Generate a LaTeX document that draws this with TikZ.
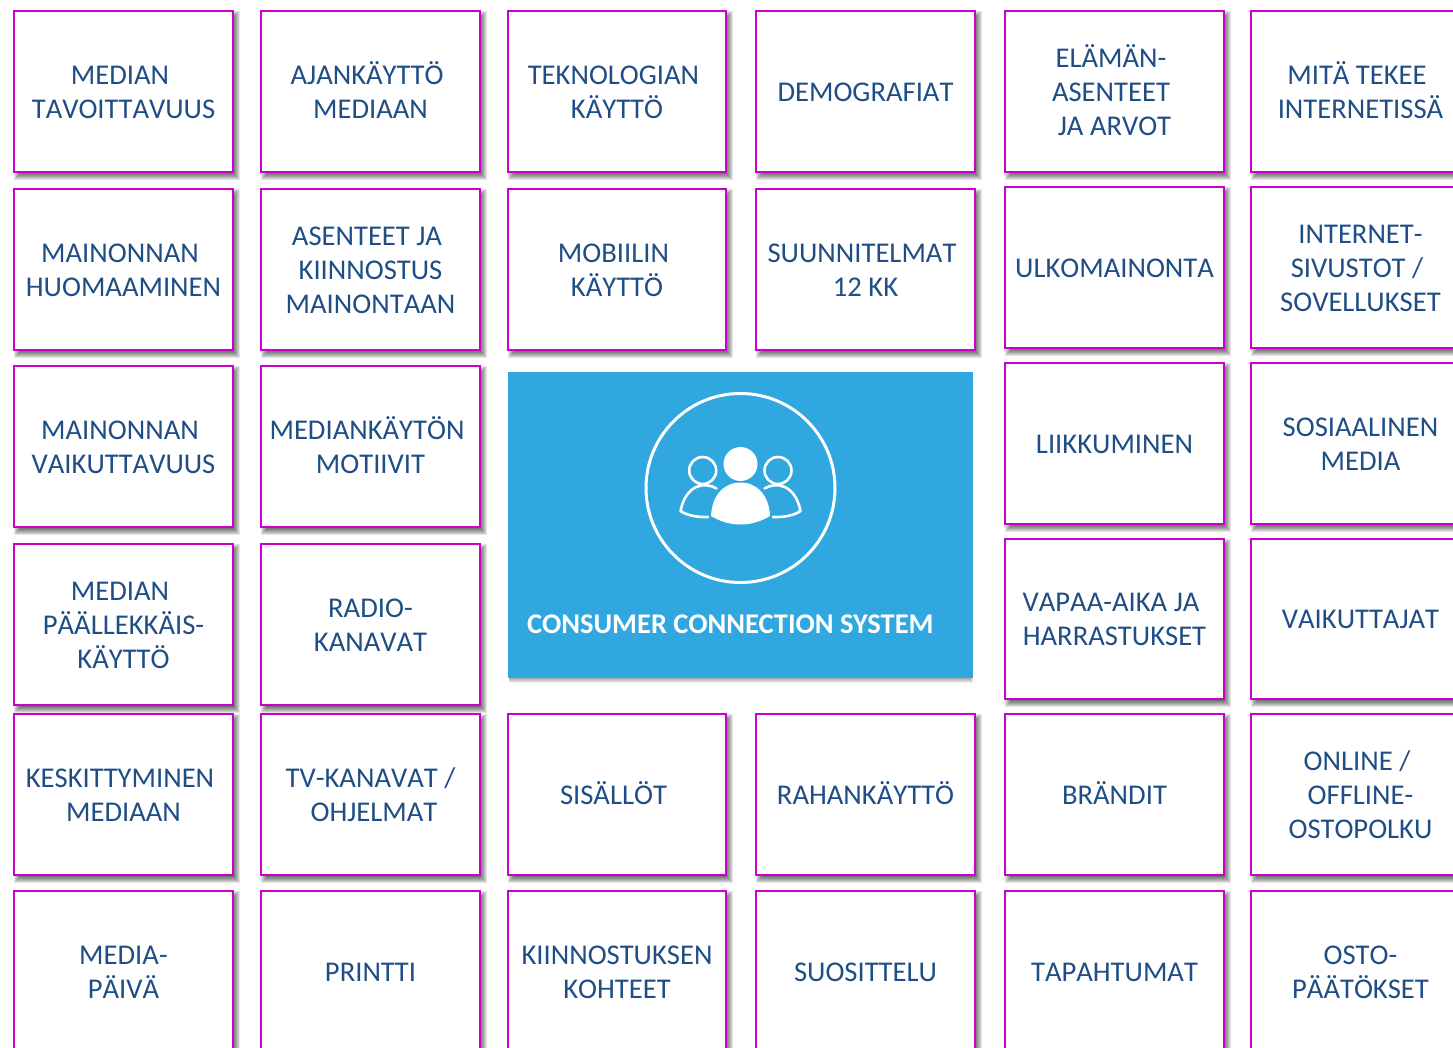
\documentclass[tikz,border=0pt]{standalone}
\usepackage{fontspec}
\setmainfont{Carlito}[Kerning=Off]
\newfontfamily\titlefont{Carlito}
\definecolor{cardline}{HTML}{CC00CC}
\definecolor{cardtext}{HTML}{1F4E86}
\definecolor{panelblue}{HTML}{31A7E0}
\newcommand{\tsp}{\kern7pt}
\newcommand{\cardfont}{\fontsize{28.6}{34}\selectfont}
\tikzset{
  cardbox/.style={draw=cardline,line width=2pt,fill=white,inner sep=0pt,text=cardtext,align=center,
    font=\cardfont},
  shadowlayer/.style={fill=black,draw=none,opacity=0.10},
  panelshadow/.style={fill=black,draw=none,opacity=0.07},
  personline/.style={draw=white,line width=2.6pt,line cap=round,line join=round},
}
% name, x1, y1, x2, y2, text
\newcommand{\card}[6]{%
  \foreach \e in {-3,-2,-1,0,1,2,3,4}{
    \fill[shadowlayer] ({#2+4-\e},{#3+4-\e}) rectangle ({#4+3+\e},{#5+4+\e});
  }
  \node[cardbox,minimum width={(#4-#2)*1pt},minimum height={(#5-#3)*1pt}] (#1) at ({(#2+#4)/2},{(#3+#5)/2}) {\rule{0pt}{26pt}#6\rule[-6.6pt]{0pt}{6.6pt}};
}
\begin{document}
\begin{tikzpicture}[x=1pt,y=-1pt]
\useasboundingbox (0,0) rectangle (1453,1047);
\clip (0,0) rectangle (1453,1047);
\fill[white] (0,0) rectangle (1453,1047);
% column 1
\card{a1}{14}{11}{233}{172}{MEDIAN\tsp\\TAVOITTAVUUS}
\card{a2}{14}{189}{233}{350}{MAINONNAN\tsp\\HUOMAAMINEN}
\card{a3}{14}{366}{233}{527}{MAINONNAN\tsp\\VAIKUTTAVUUS}
\card{a4}{14}{544}{233}{705}{MEDIAN\tsp\\PÄÄLLEKKÄIS-\\KÄYTTÖ}
\card{a5}{14}{714}{233}{875}{KESKITTYMINEN\tsp\\MEDIAAN}
\card{a6}{14}{891}{233}{1052}{MEDIA-\\PÄIVÄ}
% column 2
\card{b1}{261}{11}{480}{172}{AJANKÄYTTÖ\tsp\\MEDIAAN}
\card{b2}{261}{189}{480}{350}{ASENTEET JA\tsp\\KIINNOSTUS\\MAINONTAAN}
\card{b3}{261}{366}{480}{527}{MEDIANKÄYTÖN\tsp\\MOTIIVIT}
\card{b4}{261}{544}{480}{705}{RADIO-\\KANAVAT}
\card{b5}{261}{714}{480}{875}{TV-KANAVAT /\\\kern7pt OHJELMAT}
\card{b6}{261}{891}{480}{1052}{PRINTTI}
% column 3
\card{c1}{508}{11}{726}{172}{TEKNOLOGIAN\tsp\\KÄYTTÖ}
\card{c2}{508}{189}{726}{350}{MOBIILIN\tsp\\KÄYTTÖ}
\card{c5}{508}{714}{726}{875}{SISÄLLÖT\tsp}
\card{c6}{508}{891}{726}{1052}{KIINNOSTUKSEN\\KOHTEET}
% column 4
\card{d1}{756}{11}{975}{172}{DEMOGRAFIAT}
\card{d2}{756}{189}{975}{350}{SUUNNITELMAT\tsp\\12 KK}
\card{d5}{756}{714}{975}{875}{RAHANKÄYTTÖ}
\card{d6}{756}{891}{975}{1052}{SUOSITTELU}
% column 5
\card{e1}{1005}{11}{1224}{172}{ELÄMÄN-\tsp\\ASENTEET\tsp\\JA ARVOT}
\card{e2}{1005}{187}{1224}{348}{ULKOMAINONTA}
\card{e3}{1005}{363}{1224}{524}{LIIKKUMINEN}
\card{e4}{1005}{539}{1224}{699}{VAPAA-AIKA JA\tsp\\HARRASTUKSET}
\card{e5}{1005}{714}{1224}{875}{BRÄNDIT}
\card{e6}{1005}{891}{1224}{1052}{TAPAHTUMAT}
% column 6 (its right edge lies past the page)
\card{f1}{1251}{11}{1470}{172}{MITÄ TEKEE\tsp\\INTERNETISSÄ}
\card{f2}{1251}{187}{1470}{348}{INTERNET-\\SIVUSTOT /\tsp\\SOVELLUKSET}
\card{f3}{1251}{363}{1470}{524}{SOSIAALINEN\\MEDIA}
\card{f4}{1251}{539}{1470}{699}{VAIKUTTAJAT}
\card{f5}{1251}{714}{1470}{875}{ONLINE /\tsp\\OFFLINE-\\OSTOPOLKU}
\card{f6}{1251}{891}{1470}{1052}{OSTO-\\PÄÄTÖKSET}
% central panel
\foreach \e in {-3,-2,-1,0,1,2,3,4,5}{
  \fill[panelshadow] ({510-0.3*\e},380) rectangle ({971+0.3*\e},{678+\e});
}
\fill[panelblue] (508,372) rectangle (973,678);
\node[draw=white,line width=3pt,circle,minimum size=189pt,inner sep=0pt] (ring) at (740.5,488) {};
\node[fill=white,circle,minimum size=34pt,inner sep=0pt] (headc) at (740.5,464) {};
\node[personline,circle,minimum size=27pt,inner sep=0pt] (headl) at (702.7,470.5) {};
\node[personline,circle,minimum size=27pt,inner sep=0pt] (headr) at (778,470.5) {};
\fill[white] (711,516) .. controls (712,495) and (724,482.5) .. (740.5,482.5)
  .. controls (757,482.5) and (769,495) .. (770,516)
  .. controls (760,522) and (750,524.5) .. (740.5,524.5)
  .. controls (731,524.5) and (721,522) .. (711,516) -- cycle;
\draw[personline] (716.5,488.5) .. controls (705,481.5) and (686,484) .. (680.5,511)
  .. controls (686,515) and (697,517.5) .. (708,517);
\draw[personline] (764.5,488.5) .. controls (776,481.5) and (795,484) .. (800.5,511)
  .. controls (795,515) and (784,517.5) .. (773,517);
\node[anchor=west,inner sep=0pt,text=white,font=\titlefont\bfseries\fontsize{28.5}{33}\selectfont] (title) at (527,624) {CONSUMER CONNECTION SYSTEM};
\end{tikzpicture}
\end{document}
